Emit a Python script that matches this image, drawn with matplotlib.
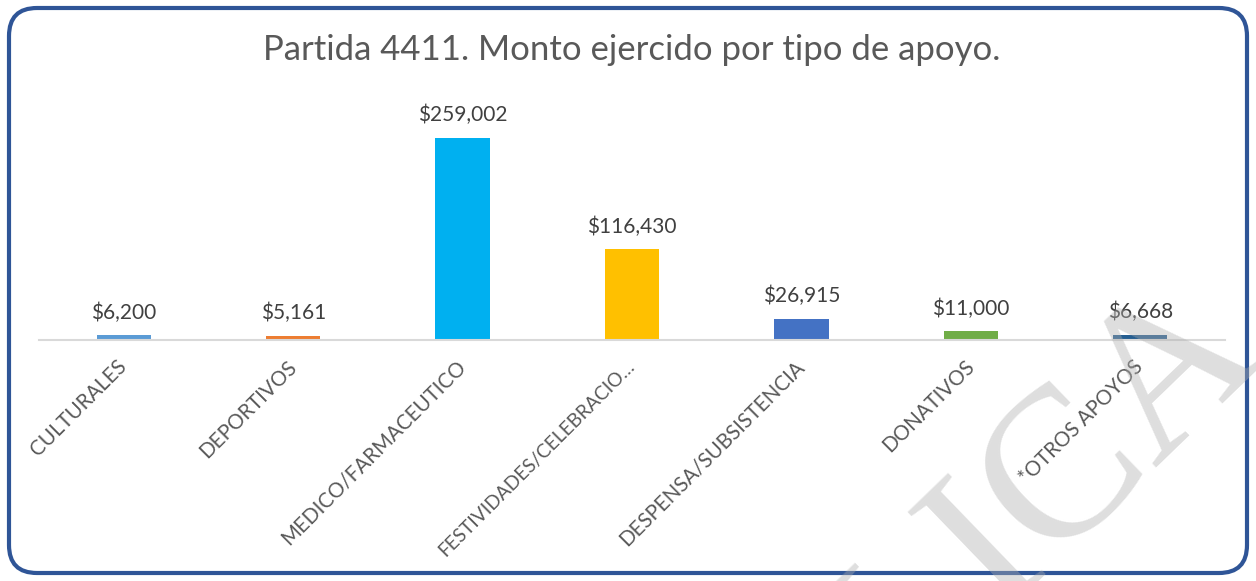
import matplotlib
matplotlib.use("Agg")
import matplotlib.pyplot as plt
from matplotlib.patches import FancyBboxPatch

# ── DATOS ─────────────────────────────────────────────────────────────────────
categorias = ["CULTURALES", "DEPORTIVOS", "MEDICO/FARMACEUTICO",
              "FESTIVIDADES/CELEBRACIO…", "DESPENSA/SUBSISTENCIA",
              "DONATIVOS", "*OTROS APOYOS"]
montos = [6200, 5161, 259002, 116430, 26915, 11000, 6668]
colores = ["#5B9BD5", "#ED7D31", "#00B0F0", "#FFC000",
           "#4472C4", "#70AD47", "#255E91"]
titulo = "Partida 4411. Monto ejercido por tipo de apoyo."

FONT = "Lato"

# ── FIGURA ────────────────────────────────────────────────────────────────────
W, H = 12.56, 5.81
fig = plt.figure(figsize=(W, H), dpi=100)
ax = fig.add_axes([39 / 1256, 1 - 340 / 581, (1225 - 39) / 1256, (340 - 106) / 581])

x = range(len(categorias))
ax.bar(x, montos, width=0.32, color=colores, zorder=2)

for xi, v in zip(x, montos):
    ax.annotate(f"${v:,.0f}", (xi, v), xytext=(0, 9), textcoords="offset points",
                ha="center", va="bottom", fontsize=15, color="#404040",
                family=FONT)

ax.set_xlim(-0.5, len(categorias) - 0.5)
ax.set_ylim(0, 300000)
ax.set_yticks([])
for s in ["top", "right", "left"]:
    ax.spines[s].set_visible(False)
ax.spines["bottom"].set_color("#D9D9D9")
ax.spines["bottom"].set_linewidth(1.5)

ax.set_xticks(list(x))
ax.set_xticklabels(categorias, rotation=45, ha="right", va="center",
                   rotation_mode="anchor", fontsize=14.8, color="#595959",
                   family=FONT)
ax.tick_params(axis="x", length=0, pad=17)
# la etiqueta truncada es mas larga en esta fuente
for t in ax.get_xticklabels():
    if t.get_text().startswith("FESTIVIDADES"):
        t.set_fontsize(13.8)

fig.text(632 / 1256, 1 - 50 / 581, titulo, ha="center", va="center",
         fontsize=25, color="#595959", family=FONT)

# marco redondeado
marco = FancyBboxPatch((0.09, 0.08), W - 0.18, H - 0.16,
                       boxstyle="round,pad=0,rounding_size=0.28",
                       transform=fig.dpi_scale_trans, fill=False,
                       edgecolor="#2F5597", linewidth=3, zorder=5)
fig.patches.append(marco)

# marca de agua
fig.text(1266 / 1256, 1 - 356 / 581, "PÚBLICA", ha="right", va="baseline",
         rotation=44, rotation_mode="anchor", fontsize=155,
         family="Liberation Serif", color="#AEAEAE", alpha=0.4, zorder=10)

plt.savefig("out.png", dpi=100)
